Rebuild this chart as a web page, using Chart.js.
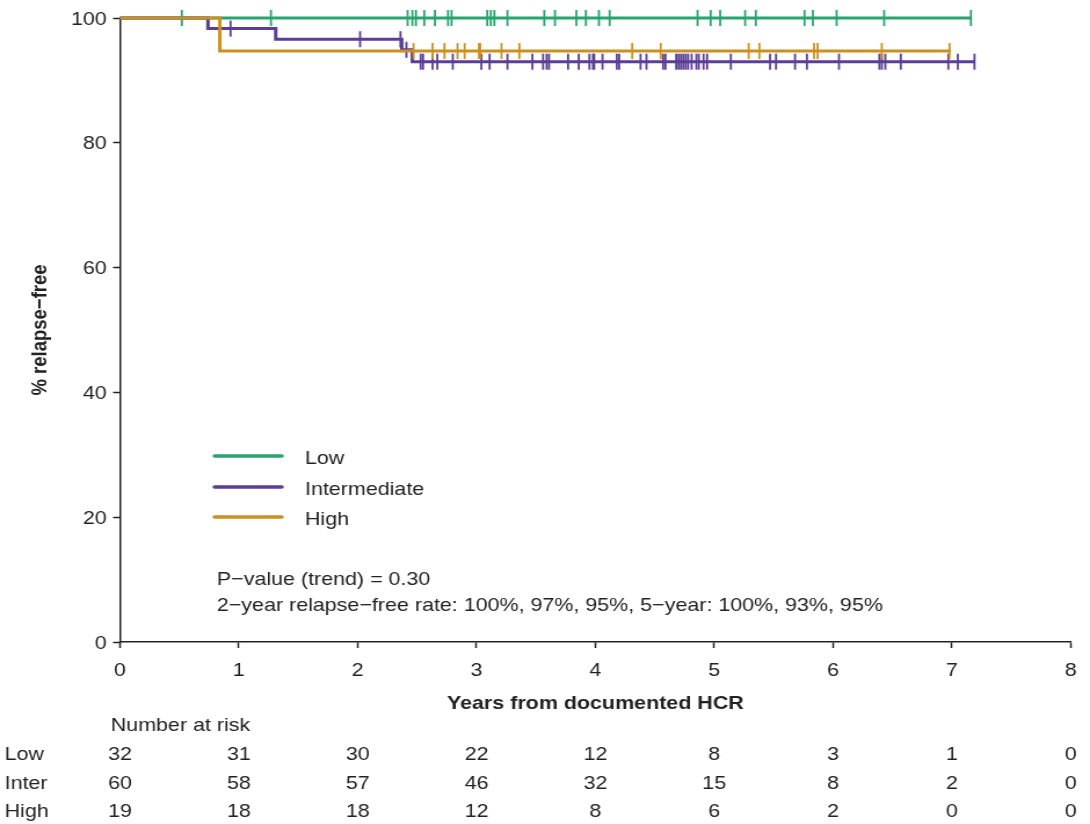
<!DOCTYPE html>
<html>
<head>
<meta charset="utf-8">
<script src="https://cdn.jsdelivr.net/npm/chart.js@4.4.1/dist/chart.umd.min.js"></script>
<style>
  html, body { margin: 0; padding: 0; background: #fff; overflow: hidden; }
  /* the source figure is stretched horizontally, so the whole chart is too */
  #wrap { width: 940px; height: 824px; transform: scaleX(1.1596); transform-origin: 0 0; }
</style>
</head>
<body>
<div id="wrap"><canvas id="km"></canvas></div>
<script>
// x axis ticks (years from documented HCR)
const xTicks = [0, 1, 2, 3, 4, 5, 6, 7, 8];

// KM steps: time (years) and % relapse-free
const lowTimes = [0, 7.16];
const lowSurv = [100, 100];
const interTimes = [0, 0.74, 1.31, 2.37, 2.46, 7.19];
const interSurv = [100, 98.3, 96.6, 94.9, 93.0, 93.0];
const highTimes = [0, 0.84, 6.99];
const highSurv = [100, 94.7, 94.7];

// censored observations (years)
const lowCensor = [0.52, 1.27, 2.42, 2.46, 2.49, 2.56, 2.65, 2.76, 2.79, 3.09, 3.12, 3.15, 3.26, 3.57, 3.66,
  3.84, 3.92, 4.03, 4.12, 4.86, 4.97, 5.05, 5.26, 5.35, 5.76, 5.83, 6.03, 6.43, 7.16];
const interCensor = [0.93, 2.02, 2.36, 2.41, 2.53, 2.55, 2.63, 2.67, 2.80, 3.04, 3.11, 3.26, 3.47, 3.56, 3.59,
  3.61, 3.77, 3.86, 3.95, 3.98, 3.99, 4.06, 4.18, 4.20, 4.38, 4.43, 4.57, 4.59, 4.68, 4.70, 4.72, 4.74, 4.76,
  4.78, 4.81, 4.85, 4.87, 4.91, 4.94, 5.14, 5.47, 5.52, 5.68, 5.78, 6.05, 6.39, 6.41, 6.44, 6.57, 6.97, 7.05, 7.19];
const highCensor = [2.47, 2.63, 2.73, 2.84, 2.90, 3.02, 3.03, 3.21, 3.36, 4.31, 4.55, 5.29, 5.38, 5.84, 5.87,
  6.41, 6.98];

// number at risk at each x tick
const riskLow = [32, 31, 30, 22, 12, 8, 3, 1, 0];
const riskInter = [60, 58, 57, 46, 32, 15, 8, 2, 0];
const riskHigh = [19, 18, 18, 12, 8, 6, 2, 0, 0];

const groupLabels = ['Low', 'Intermediate', 'High'];
const riskLabels = ['Low', 'Inter', 'High'];
const groupColors = ['#27a56e', '#5b3e96', '#cb9020'];

const noteLines = [
  'P\u2212value (trend) = 0.30',
  '2\u2212year relapse\u2212free rate: 100%, 97%, 95%, 5\u2212year: 100%, 93%, 95%'
];

const FAMILY = '"Liberation Sans", Arial, Helvetica, sans-serif';
const TEXT = '#222';
const AXIS = '#222';

function survAt(times, surv, t) {
  let v = surv[0];
  for (let i = 0; i < times.length; i++) if (times[i] <= t) v = surv[i];
  return v;
}

function curve(label, times, surv, color, order) {
  return {
    type: 'line', label: label,
    data: times.map((t, i) => ({ x: t, y: surv[i] })),
    borderColor: color, borderWidth: 3, stepped: 'before',
    pointRadius: 0, fill: false, clip: false, order: order
  };
}

function marks(times, surv, censor, color, order) {
  return {
    type: 'scatter', label: '',
    data: censor.map(t => ({ x: t, y: survAt(times, surv, t) })),
    pointStyle: 'line', pointRotation: 90, pointRadius: 8,
    pointBorderWidth: 1.8, borderColor: color, backgroundColor: color,
    clip: false, order: order
  };
}

// legend, notes and number-at-risk table
const extras = {
  id: 'extras',
  afterDraw(chart) {
    const ctx = chart.ctx;
    const xs = chart.scales.x;
    ctx.save();
    ctx.font = '18.5px ' + FAMILY;
    ctx.fillStyle = TEXT;
    ctx.textBaseline = 'middle';

    // legend inside the plot
    const legY = [456, 487, 517];
    groupLabels.forEach((lab, i) => {
      ctx.strokeStyle = groupColors[i];
      ctx.lineWidth = 3.5;
      ctx.lineCap = 'round';
      ctx.beginPath();
      ctx.moveTo(185, legY[i]);
      ctx.lineTo(243, legY[i]);
      ctx.stroke();
      ctx.textAlign = 'left';
      ctx.fillText(lab, 263, legY[i] + 2.5);
    });

    // p-value notes
    ctx.textAlign = 'left';
    ctx.fillText(noteLines[0], 187, 580);
    ctx.fillText(noteLines[1], 187, 606);

    // number at risk
    ctx.fillText('Number at risk', 95.5, 726);
    const rows = [riskLow, riskInter, riskHigh];
    const rowY = [755, 783.5, 812];
    rows.forEach((row, r) => {
      ctx.textAlign = 'left';
      ctx.fillText(riskLabels[r], 4, rowY[r]);
      ctx.textAlign = 'center';
      row.forEach((n, i) => ctx.fillText(String(n), xs.getPixelForValue(xTicks[i]), rowY[r]));
    });
    ctx.restore();
  }
};

new Chart(document.getElementById('km'), {
  data: {
    datasets: [
      marks(highTimes, highSurv, highCensor, groupColors[2], 0),
      curve(groupLabels[2], highTimes, highSurv, groupColors[2], 1),
      marks(interTimes, interSurv, interCensor, groupColors[1], 2),
      curve(groupLabels[1], interTimes, interSurv, groupColors[1], 3),
      marks(lowTimes, lowSurv, lowCensor, groupColors[0], 4),
      curve(groupLabels[0], lowTimes, lowSurv, groupColors[0], 5)
    ]
  },
  options: {
    responsive: true,
    maintainAspectRatio: false,
    animation: false,
    events: [],
    layout: { padding: { left: 0, right: 15.5, top: 18, bottom: 0 } },
    plugins: { legend: { display: false }, tooltip: { enabled: false } },
    scales: {
      x: {
        type: 'linear', min: 0, max: 8,
        afterBuildTicks: s => { s.ticks = xTicks.map(v => ({ value: v })); },
        afterFit: s => { s.height = 182; },
        border: { color: AXIS, width: 1.5 },
        grid: { drawOnChartArea: false, tickLength: 6, tickColor: AXIS, tickWidth: 1.5 },
        ticks: { font: { family: FAMILY, size: 18.5 }, color: TEXT, padding: 11.5, maxRotation: 0 },
        title: {
          display: true, text: 'Years from documented HCR', color: TEXT,
          font: { family: FAMILY, size: 18.5, weight: 'bold' },
          padding: { top: 0, bottom: 109 }
        }
      },
      y: {
        type: 'linear', min: 0, max: 100,
        afterFit: s => { s.width = 103.5; },
        border: { color: AXIS, width: 1.5 },
        grid: { drawOnChartArea: false, tickLength: 6, tickColor: AXIS, tickWidth: 1.5 },
        ticks: { stepSize: 20, font: { family: FAMILY, size: 18.5 }, color: TEXT, padding: 5.5, labelOffset: 1.5 },
        title: {
          display: true, text: '% relapse\u2212free', color: TEXT,
          font: { family: FAMILY, size: 18.5, weight: 'bold' },
          padding: { top: 23.4, bottom: 0 }
        }
      }
    }
  },
  plugins: [extras]
});
</script>
</body>
</html>
